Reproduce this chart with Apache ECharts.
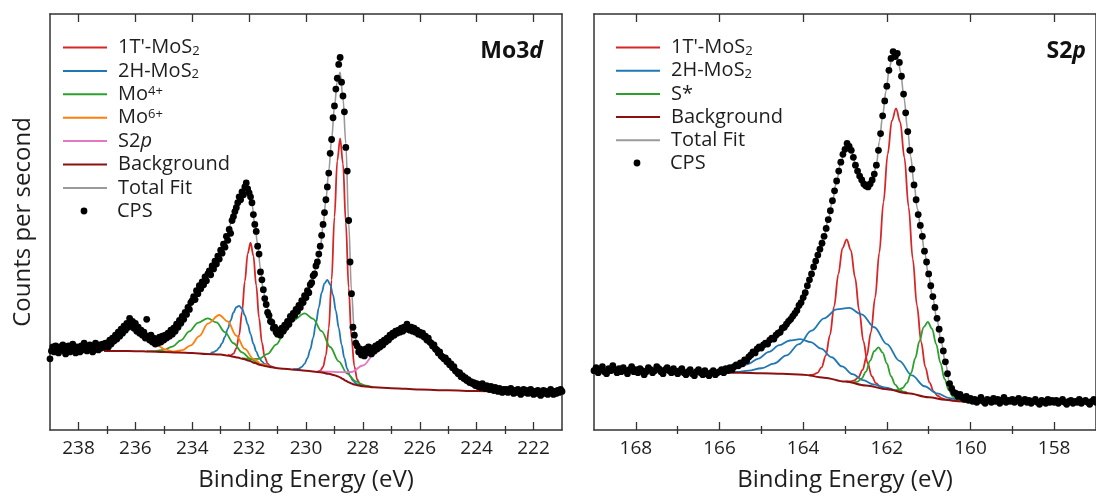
<!DOCTYPE html>
<html>
<head>
<meta charset="utf-8">
<script src="https://cdn.jsdelivr.net/npm/echarts@6/dist/echarts.min.js"></script>
<style>
  html, body { margin: 0; padding: 0; background: #fff; }
  #chart { width: 1096px; height: 497px; }
</style>
</head>
<body>
<div id="chart"></div>
<script>
// ---------------- Mo 3d region ----------------
// measured counts, sampled every 0.05 eV from 239.00 eV down to 221.00 eV
const moEnergyStart = 239.0;
const moEnergyStep = 0.05;
const moCounts = [
  72, 80, 84, 79, 85, 81, 78, 84, 82, 86, 80, 77, 83, 85, 79, 82, 87, 81, 78, 84,
  83, 79, 85, 81, 88, 84, 80, 83, 86, 82, 79, 85, 88, 84, 81, 86, 83, 87, 84, 88,
  88, 84, 91, 87, 93, 90, 96, 92, 99, 95, 102, 98, 105, 101, 108, 104, 113, 107, 110, 103,
  108, 100, 104, 98, 101, 96, 99, 93, 112, 95, 91, 96, 89, 93, 87, 92, 88, 94, 89, 95,
  91, 96, 93, 98, 95, 101, 97, 103, 100, 107, 104, 111, 108, 115, 112, 119, 117, 124, 122, 129,
  131, 135, 132, 141, 138, 146, 143, 150, 147, 155, 151, 158, 161, 157, 166, 163, 171, 168, 176, 173,
  182, 179, 188, 185, 196, 192, 203, 199, 212, 216, 221, 225, 230, 236, 233, 241, 238, 246, 250, 244,
  240, 236, 230, 218, 208, 201, 186, 178, 160, 152, 142, 133, 127, 119, 116, 110, 109, 103, 104, 99,
  97, 101, 96, 103, 100, 106, 104, 110, 107, 115, 112, 118, 116, 122, 120, 126, 124, 131, 129, 136,
  134, 141, 139, 147, 149, 156, 158, 166, 170, 178, 186, 197, 208, 220, 233, 246, 260, 280, 294, 316,
  328, 345, 356, 370, 377, 352, 338, 322, 286, 262, 212, 170, 138, 104, 96, 88, 85, 79, 82, 76,
  80, 75, 82, 78, 84, 79, 77, 83, 80, 85, 82, 87, 84, 89, 86, 91, 89, 93, 91, 96,
  94, 98, 96, 100, 98, 101, 99, 103, 100, 104, 102, 107, 103, 101, 104, 100, 103, 99, 101, 97,
  99, 96, 98, 94, 95, 91, 93, 89, 88, 85, 86, 82, 81, 78, 79, 75, 74, 72, 73, 69,
  70, 66, 67, 63, 64, 60, 59, 57, 58, 54, 55, 52, 53, 50, 51, 48, 49, 47, 48, 45,
  47, 44, 46, 43, 47, 44, 42, 45, 43, 41, 44, 42, 40, 43, 41, 39, 42, 40, 38, 41,
  39, 41, 38, 40, 42, 39, 37, 40, 38, 41, 39, 36, 39, 41, 38, 40, 37, 39, 41, 38,
  36, 39, 37, 40, 38, 35, 38, 40, 37, 39, 36, 38, 41, 38, 36, 39, 37, 40, 38, 41,
  39
];

// fitted curves, [binding energy, counts]
const moTotalFit = [
  [237.1, 85], [236.8, 91], [236.5, 100], [236.2, 106], [235.9, 103], [235.6, 96], [235.3, 91],
  [235.0, 93], [234.7, 99], [234.4, 110], [234.1, 125], [233.8, 141], [233.5, 155], [233.2, 170],
  [233.0, 181], [232.8, 195], [232.6, 212], [232.4, 230], [232.2, 243], [232.1, 247], [232.0, 242],
  [231.9, 229], [231.8, 208], [231.7, 188], [231.6, 163], [231.5, 141], [231.4, 126], [231.2, 109],
  [231.0, 101], [230.8, 102], [230.6, 109], [230.4, 117], [230.2, 125], [230.0, 135], [229.8, 149],
  [229.6, 168], [229.5, 184], [229.4, 206], [229.3, 233], [229.2, 262], [229.1, 294], [229.0, 327],
  [228.9, 353], [228.8, 362], [228.7, 336], [228.6, 290], [228.5, 210], [228.4, 140], [228.3, 100],
  [228.2, 85], [228.1, 80], [228.0, 79], [227.8, 80], [227.5, 83], [227.2, 89], [226.8, 98],
  [226.4, 102], [226.0, 98], [225.6, 88], [225.2, 75], [224.8, 63], [224.4, 53], [224.0, 46],
  [223.6, 43], [223.4, 42]
];
const moBackground = [
  [237.1, 80], [236.5, 80], [236.0, 79.8], [235.5, 79.4], [235.0, 79], [234.5, 78.5], [234.0, 78],
  [233.5, 77], [233.0, 76.3], [232.8, 75.5], [232.6, 74.5], [232.4, 73.3], [232.2, 71.8], [232.0, 70],
  [231.8, 67.8], [231.6, 65.8], [231.4, 64.5], [231.2, 63.5], [231.0, 62.6], [230.8, 62], [230.5, 61.3],
  [230.0, 60], [229.5, 58.5], [229.2, 56.8], [229.0, 55.5], [228.9, 54.5], [228.8, 53.2], [228.7, 51.5],
  [228.6, 49.8], [228.5, 48.2], [228.4, 47], [228.3, 46], [228.2, 45.3], [228.0, 44.3], [227.6, 43.2],
  [227.0, 42.3], [226.5, 41.7], [226.0, 41], [225.0, 40.2], [224.0, 39.4], [223.4, 39]
];
const moRed32 = [
  [232.75, 76], [232.65, 75.6], [232.55, 77.2], [232.45, 82.6], [232.35, 96], [232.25, 119.2],
  [232.15, 150.4], [232.05, 178.5], [231.95, 189.5], [231.85, 176.4], [231.75, 146.3], [231.65, 113.3],
  [231.55, 88.5], [231.45, 73.8], [231.35, 67.2], [231.25, 64.4], [231.1, 63]
];
const moRed52 = [
  [229.6, 58.8], [229.5, 60], [229.4, 63.8], [229.3, 75.6], [229.2, 102.8], [229.1, 151.8],
  [229.0, 215.5], [228.9, 272.5], [228.8, 295.2], [228.7, 269.5], [228.6, 209.8], [228.5, 143.8],
  [228.4, 93], [228.3, 64.4], [228.2, 51.1], [228.1, 46.3], [227.9, 44]
];
const moBlue32 = [
  [233.35, 78.1], [233.25, 78.8], [233.15, 80.4], [233.05, 83.3], [232.95, 87.9], [232.85, 94.2],
  [232.75, 102.4], [232.65, 110.9], [232.55, 118.9], [232.45, 124.3], [232.35, 125.7], [232.25, 122.8],
  [232.15, 116], [232.05, 107], [231.95, 97.1], [231.85, 87.4], [231.75, 79.5], [231.65, 73.5],
  [231.55, 69.4], [231.45, 66.8], [231.35, 65.1], [231.2, 63.9]
];
const moBlue52 = [
  [230.45, 61.5], [230.35, 61.7], [230.25, 62.2], [230.15, 63.8], [230.05, 67], [229.95, 72.6],
  [229.85, 81.5], [229.75, 93.2], [229.65, 108.2], [229.55, 123.9], [229.45, 138.9], [229.35, 148.4],
  [229.25, 151.9], [229.15, 147.3], [229.05, 136.6], [228.95, 120.5], [228.85, 103.4], [228.75, 86.4],
  [228.65, 72.6], [228.55, 61.8], [228.45, 54.6], [228.35, 50], [228.25, 47.2], [228.15, 45.7], [228.0, 44.3]
];
const moGreen32 = [
  [235.6, 79.5], [235.3, 79.9], [235.0, 81], [234.7, 84.4], [234.4, 90.7], [234.1, 99.8], [233.8, 108.5],
  [233.45, 113], [233.15, 108.9], [232.85, 99], [232.55, 87.8], [232.25, 78.6], [231.95, 72],
  [231.65, 66.8], [231.4, 64.5]
];
const moGreen52 = [
  [232.25, 72.8], [231.95, 71.8], [231.65, 72], [231.35, 77], [231.05, 86.5], [230.75, 99], [230.45, 111],
  [230.05, 118], [229.75, 112.5], [229.45, 100], [229.15, 84], [228.85, 69.5], [228.55, 57],
  [228.25, 49.2], [227.95, 45.2], [227.65, 43.4]
];
const moOrange32 = [
  [237.1, 86], [236.75, 94.3], [236.45, 102.4], [236.15, 105.9], [235.85, 102.1], [235.55, 93.7],
  [235.25, 86], [234.95, 81.4], [234.65, 79.3], [234.4, 78.5]
];
const moOrange52 = [
  [234.65, 79.3], [234.35, 80.8], [234.05, 85.7], [233.75, 95.1], [233.45, 107.7], [233.05, 116.4],
  [232.75, 109.8], [232.45, 95.5], [232.15, 82], [231.85, 72], [231.55, 66.3], [231.25, 63.7]
];
const moPink = [
  [229.6, 59.4], [229.2, 59], [228.8, 58.6], [228.4, 58.7], [228.0, 65.3], [227.6, 76.6], [227.2, 89.3],
  [226.8, 99], [226.4, 102.5], [226.0, 98], [225.6, 87.5], [225.2, 73.8], [224.8, 61], [224.4, 51.3],
  [224.0, 44.9], [223.6, 41.4], [223.2, 39.9]
];

// ---------------- S 2p region ----------------
// measured counts, sampled every 0.05 eV from 169.00 eV down to 157.00 eV
const sEnergyStart = 169.0;
const sEnergyStep = 0.05;
const sCounts = [
  60, 63, 58, 61, 64, 59, 57, 62, 60, 65, 61, 58, 62, 59, 63, 60, 57, 61, 64, 59,
  61, 58, 62, 60, 56, 59, 63, 61, 58, 60, 64, 62, 59, 57, 61, 63, 60, 58, 62, 59,
  57, 60, 62, 58, 56, 59, 61, 57, 55, 59, 61, 58, 56, 60, 57, 55, 58, 60, 56, 58,
  59, 61, 58, 62, 60, 63, 61, 64, 66, 65, 68, 67, 71, 70, 74, 76, 79, 78, 82, 84,
  83, 86, 88, 87, 91, 93, 92, 96, 98, 99, 103, 104, 107, 110, 112, 115, 118, 121, 126, 129,
  134, 139, 146, 152, 158, 165, 171, 177, 183, 189, 196, 204, 213, 222, 232, 242, 252, 262, 271, 279,
  284, 290, 287, 283, 276, 268, 262, 257, 253, 249, 247, 246, 249, 253, 259, 268, 283, 300, 318, 333,
  348, 364, 376, 383, 378, 381, 372, 358, 340, 321, 302, 283, 264, 248, 233, 218, 207, 196, 181, 170,
  158, 146, 135, 124, 113, 102, 91, 80, 69, 57, 47, 42, 38, 37, 34, 36, 33, 31, 34, 30,
  32, 29, 31, 28, 30, 33, 29, 27, 31, 30, 28, 32, 29, 31, 27, 30, 33, 28, 30, 29,
  31, 28, 30, 32, 27, 29, 31, 28, 30, 27, 29, 31, 28, 26, 30, 29, 27, 31, 28, 30,
  28, 30, 27, 29, 31, 28, 26, 29, 30, 27, 29, 28, 31, 27, 29, 30, 28, 26, 29, 31,
  28
];
const sTotalFit = [
  [165.75, 62], [165.5, 67], [165.25, 75], [165.0, 84], [164.75, 92], [164.5, 102], [164.3, 112],
  [164.1, 125], [163.9, 145], [163.7, 171], [163.5, 196], [163.4, 213], [163.3, 232], [163.2, 252],
  [163.1, 271], [163.0, 284], [162.92, 288], [162.84, 282], [162.73, 266], [162.61, 254], [162.49, 247],
  [162.4, 249], [162.33, 255], [162.25, 268], [162.18, 292], [162.1, 318], [162.02, 343], [161.94, 366],
  [161.86, 380], [161.8, 381], [161.74, 377], [161.67, 362], [161.59, 336], [161.5, 303], [161.43, 277],
  [161.35, 249], [161.27, 224], [161.18, 202], [161.1, 180], [161.0, 156], [160.9, 133], [160.8, 111],
  [160.7, 89], [160.6, 68], [160.5, 48], [160.4, 39], [160.3, 34]
];
const sBackground = [
  [165.75, 58], [165.5, 58], [165.0, 57.5], [164.5, 57], [164.0, 56], [163.5, 53], [163.0, 49],
  [162.5, 45], [162.0, 41.3], [161.5, 37.2], [161.0, 33.2], [160.6, 30.5], [160.3, 29], [160.0, 28]
];
const sRedP12 = [
  [163.86, 55.3], [163.76, 55.9], [163.66, 57.8], [163.56, 63.3], [163.46, 75.2], [163.36, 96],
  [163.26, 125], [163.16, 157.5], [163.06, 184], [162.96, 193], [162.86, 182], [162.76, 154.4],
  [162.66, 120.7], [162.56, 90], [162.46, 67.8], [162.36, 54.4], [162.26, 47.4], [162.16, 44.1], [162.06, 42.3]
];
const sRedP32 = [
  [162.98, 49.2], [162.88, 49.1], [162.78, 50.1], [162.68, 53.3], [162.58, 60.8], [162.48, 74.9],
  [162.38, 98.8], [162.28, 134], [162.18, 179.5], [162.08, 230.7], [161.98, 279], [161.88, 313],
  [161.78, 325.4], [161.68, 311.5], [161.58, 275.7], [161.48, 225.9], [161.38, 173.1], [161.28, 126],
  [161.18, 89.2], [161.08, 63.7], [160.98, 48], [160.88, 39.1], [160.78, 34.4], [160.68, 32],
  [160.58, 30.7], [160.4, 29.5]
];
const sBlueP12 = [
  [165.75, 59], [165.57, 62.9], [165.32, 66.8], [165.07, 72.3], [164.82, 79.1], [164.57, 85.8],
  [164.32, 90.6], [164.07, 92], [163.82, 89], [163.57, 82.3], [163.32, 73.6], [163.07, 64.3],
  [162.82, 56.5], [162.57, 50.4], [162.32, 46.2], [162.07, 43], [161.8, 40]
];
const sBlueP32 = [
  [165.75, 58.3], [165.6, 58.8], [165.3, 60], [165.0, 62.5], [164.7, 67.2], [164.4, 75.5], [164.1, 86.9],
  [163.8, 100.5], [163.5, 113], [163.2, 122], [162.9, 123.5], [162.6, 117], [162.3, 104], [162.0, 87],
  [161.7, 70], [161.4, 55.2], [161.1, 44.3], [160.8, 37], [160.5, 32.2], [160.3, 30]
];
const sGreenP12 = [
  [162.9, 48.5], [162.8, 48.1], [162.7, 48.9], [162.6, 52.3], [162.5, 59], [162.4, 70.2], [162.3, 79.7],
  [162.2, 83.6], [162.1, 78.3], [162.0, 67.3], [161.9, 54.4], [161.8, 46], [161.7, 41.1], [161.6, 38.7],
  [161.5, 37.4]
];
const sGreenP32 = [
  [161.82, 40.4], [161.72, 40.5], [161.62, 42.5], [161.52, 47.7], [161.42, 57.6], [161.32, 72.7],
  [161.22, 89.9], [161.12, 104.1], [161.02, 109.3], [160.92, 102.6], [160.82, 86.9], [160.72, 68.2],
  [160.62, 51.6], [160.52, 40.3], [160.42, 33.8], [160.32, 30.5], [160.22, 29.2]
];

// axis ranges and tick positions
const moRange = [221, 239];
const moMajorTicks = [238, 236, 234, 232, 230, 228, 226, 224, 222];
const moMinorTicks = [237, 235, 233, 231, 229, 227, 225, 223];
const sRange = [157, 169];
const sMajorTicks = [168, 166, 164, 162, 160, 158];
const sMinorTicks = [167, 165, 163, 161, 159];
const countsRange = [0, 421];

// ---------------- drawing ----------------
const FONT = "'Open Sans', 'Noto Sans', sans-serif";
const INK = '#333333';
const TEXT = '#1e1e1e';
const COLORS = {
  red: '#d62728', blue: '#1f77b4', green: '#2ca02c', orange: '#ff7f0e',
  pink: '#e377c2', background: '#8b1010', total: '#9a9a9a', cps: '#000000'
};

function withEnergies(start, step, counts) {
  return counts.map((c, i) => [+(start - i * step).toFixed(2), c]);
}

function xAxesFor(gridIndex, range, majors, minors) {
  const base = {
    type: 'value', gridIndex, min: range[0], max: range[1], inverse: true,
    splitLine: { show: false }
  };
  const line = { show: true, onZero: false, lineStyle: { color: INK, width: 1.5 } };
  const tickStyle = { color: INK, width: 1.3 };
  return [
    Object.assign({}, base, {
      position: 'bottom', axisLine: line,
      axisTick: { show: true, inside: true, length: 8, customValues: majors, lineStyle: tickStyle },
      axisLabel: { show: true, customValues: majors, margin: 9, color: TEXT, fontFamily: FONT, fontSize: 19 },
      name: 'Binding Energy (eV)', nameLocation: 'middle', nameGap: 38,
      nameTextStyle: { fontFamily: FONT, fontSize: 24, color: TEXT }
    }),
    Object.assign({}, base, {
      position: 'bottom', axisLine: { show: false },
      axisTick: { show: true, inside: true, length: 4, customValues: minors, lineStyle: tickStyle },
      axisLabel: { show: false }
    }),
    Object.assign({}, base, {
      position: 'top', axisLine: line,
      axisTick: { show: true, inside: true, length: 8, customValues: majors, lineStyle: tickStyle },
      axisLabel: { show: false }
    }),
    Object.assign({}, base, {
      position: 'top', axisLine: { show: false },
      axisTick: { show: true, inside: true, length: 4, customValues: minors, lineStyle: tickStyle },
      axisLabel: { show: false }
    })
  ];
}

function yAxesFor(gridIndex, withTitle) {
  const common = {
    type: 'value', gridIndex, min: countsRange[0], max: countsRange[1],
    axisLine: { show: true, onZero: false, lineStyle: { color: INK, width: 1.5 } },
    axisTick: { show: false }, axisLabel: { show: false }, splitLine: { show: false }
  };
  const left = Object.assign({}, common, { position: 'left' });
  if (withTitle) {
    Object.assign(left, {
      name: 'Counts per second', nameLocation: 'middle', nameGap: 15,
      nameTextStyle: { fontFamily: FONT, fontSize: 24, color: TEXT }
    });
  }
  return [left, Object.assign({}, common, { position: 'right' })];
}

function curve(name, data, color, xAxisIndex, yAxisIndex, z, width) {
  return {
    type: 'line', name, data, xAxisIndex, yAxisIndex, z,
    smooth: 0.35, smoothMonotone: 'x', symbol: 'none', silent: true,
    lineStyle: { color, width: width || 1.8 }, itemStyle: { color }
  };
}

function dots(data, xAxisIndex, yAxisIndex) {
  return {
    type: 'scatter', name: 'CPS', data, xAxisIndex, yAxisIndex, z: 6,
    symbol: 'circle', symbolSize: 6.8, silent: true,
    itemStyle: { color: COLORS.cps, opacity: 1 }
  };
}

const legendRich = {
  n: { fontFamily: FONT, fontSize: 20, color: TEXT, lineHeight: 20 },
  it: { fontFamily: FONT, fontSize: 20, color: TEXT, lineHeight: 20, fontStyle: 'italic' },
  sub: { fontFamily: FONT, fontSize: 13, color: TEXT, lineHeight: 13, verticalAlign: 'bottom' },
  sup: { fontFamily: FONT, fontSize: 13, color: TEXT, lineHeight: 13, verticalAlign: 'top' }
};
const legendLabels = {
  "1T'-MoS2": "{n|1T'-MoS}{sub|2}",
  '2H-MoS2': '{n|2H-MoS}{sub|2}',
  'Mo4+': '{n|Mo}{sup|4+}',
  'Mo6+': '{n|Mo}{sup|6+}',
  'S2p': '{n|S2}{it|p}',
  'S*': '{n|S*}',
  'Background': '{n|Background}',
  'Total Fit': '{n|Total Fit}',
  'CPS': '{n|CPS}'
};

// legend of the fitted curves: plain line swatches
function lineLegend(left, top, names, gap) {
  return {
    orient: 'vertical', left, top, padding: 0, itemWidth: 44, itemHeight: 14, itemGap: gap,
    selectedMode: false, data: names,
    itemStyle: { opacity: 0, borderWidth: 0 },
    formatter: (name) => legendLabels[name],
    textStyle: { fontFamily: FONT, fontSize: 20, color: TEXT, lineHeight: 20, padding: [0, 0, 0, 6], rich: legendRich }
  };
}
// legend of the measured points: a dot centred in the 44 px swatch slot
// (the box is laid out from the dot's own edge, 18.6 px into the slot)
function dotLegend(left, top) {
  return {
    orient: 'vertical', left: left + 18.6, top, padding: 0, itemWidth: 44, itemHeight: 6.8, itemGap: 0,
    selectedMode: false, data: ['CPS'],
    formatter: (name) => legendLabels[name],
    textStyle: { fontFamily: FONT, fontSize: 20, color: TEXT, lineHeight: 20, padding: [0, 0, 0, 6], rich: legendRich }
  };
}

const panelTitleRich = {
  b: { fontFamily: FONT, fontSize: 23, fontWeight: 'bold', color: '#111' },
  bi: { fontFamily: FONT, fontSize: 23, fontWeight: 'bold', fontStyle: 'italic', color: '#111' }
};

const moX = 0, moY = 0;   // bottom axis and left axis of the Mo 3d grid
const sX = 4, sY = 2;     // bottom axis and left axis of the S 2p grid

const option = {
  animation: false,
  backgroundColor: '#ffffff',
  title: [
    { text: '{b|Mo3}{bi|d}', right: 553, top: 40, padding: 0, textStyle: { rich: panelTitleRich } },
    { text: '{b|S2}{bi|p}', right: 10, top: 40, padding: 0, textStyle: { rich: panelTitleRich } }
  ],
  legend: [
    lineLegend(62, 37.5, ["1T'-MoS2", '2H-MoS2', 'Mo4+', 'Mo6+', 'S2p', 'Background', 'Total Fit'], 3.4),
    dotLegend(62, 201),
    lineLegend(615, 37.5, ["1T'-MoS2", '2H-MoS2', 'S*', 'Background', 'Total Fit'], 3.2),
    dotLegend(615, 153)
  ],
  grid: [
    { left: 50, top: 14, width: 512, height: 421, containLabel: false },
    { left: 594, top: 14, width: 509, height: 421, containLabel: false }
  ],
  xAxis: [].concat(
    xAxesFor(0, moRange, moMajorTicks, moMinorTicks),
    xAxesFor(1, sRange, sMajorTicks, sMinorTicks)
  ),
  yAxis: [].concat(yAxesFor(0, true), yAxesFor(1, false)),
  series: [
    // Mo 3d
    curve("1T'-MoS2", moRed32, COLORS.red, moX, moY, 2),
    curve("1T'-MoS2", moRed52, COLORS.red, moX, moY, 2),
    curve('2H-MoS2', moBlue32, COLORS.blue, moX, moY, 2),
    curve('2H-MoS2', moBlue52, COLORS.blue, moX, moY, 2),
    curve('Mo4+', moGreen32, COLORS.green, moX, moY, 2),
    curve('Mo4+', moGreen52, COLORS.green, moX, moY, 2),
    curve('Mo6+', moOrange32, COLORS.orange, moX, moY, 2),
    curve('Mo6+', moOrange52, COLORS.orange, moX, moY, 2),
    curve('S2p', moPink, COLORS.pink, moX, moY, 2),
    curve('Background', moBackground, COLORS.background, moX, moY, 3, 2),
    curve('Total Fit', moTotalFit, COLORS.total, moX, moY, 4, 1.6),
    dots(withEnergies(moEnergyStart, moEnergyStep, moCounts), moX, moY),
    // S 2p
    curve("1T'-MoS2", sRedP12, COLORS.red, sX, sY, 2),
    curve("1T'-MoS2", sRedP32, COLORS.red, sX, sY, 2),
    curve('2H-MoS2', sBlueP12, COLORS.blue, sX, sY, 2),
    curve('2H-MoS2', sBlueP32, COLORS.blue, sX, sY, 2),
    curve('S*', sGreenP12, COLORS.green, sX, sY, 2),
    curve('S*', sGreenP32, COLORS.green, sX, sY, 2),
    curve('Background', sBackground, COLORS.background, sX, sY, 3, 2),
    curve('Total Fit', sTotalFit, COLORS.total, sX, sY, 4, 1.6),
    dots(withEnergies(sEnergyStart, sEnergyStep, sCounts), sX, sY)
  ]
};

const chart = echarts.init(document.getElementById('chart'), null, { renderer: 'canvas' });
chart.setOption(option);
</script>
</body>
</html>
